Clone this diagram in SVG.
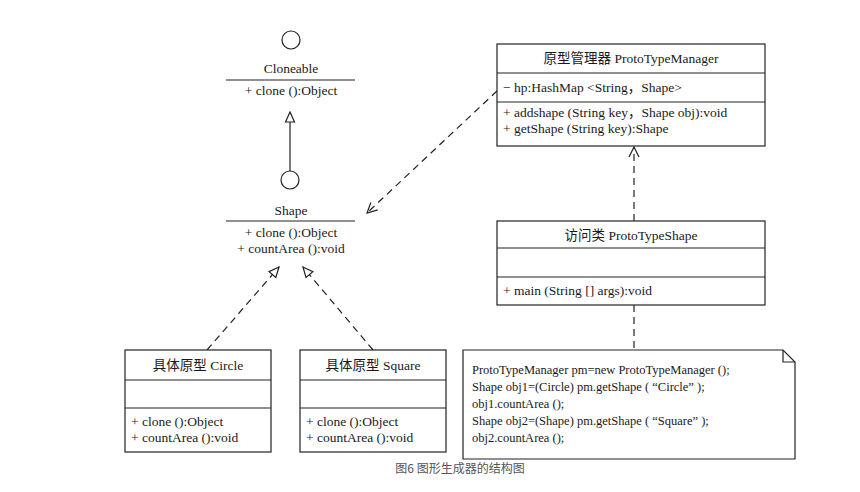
<svg xmlns="http://www.w3.org/2000/svg" width="860" height="492" viewBox="0 0 860 492">
<style>
.t{font-family:"Liberation Serif","Noto Sans CJK SC",serif;font-size:13.5px;fill:#1a1a1a}
.n{font-size:12.5px}
.c{text-anchor:middle}
.box{fill:#fff;stroke:#222;stroke-width:1.2}
.ln{stroke:#222;stroke-width:1.2;fill:none}
.dash{stroke:#222;stroke-width:1.2;fill:none;stroke-dasharray:7 5}
.cap{font-family:"Noto Sans CJK SC","Liberation Sans",sans-serif;font-size:12px;fill:#555;text-anchor:middle}
</style>
<defs>
<marker id="tri" viewBox="0 0 12 12" refX="11" refY="6" markerWidth="12" markerHeight="12" markerUnits="userSpaceOnUse" orient="auto">
<path d="M1,1.5 L11,6 L1,10.5 Z" fill="#fff" stroke="#222" stroke-width="1.2"/>
</marker>
<marker id="open" viewBox="0 0 12 12" refX="11" refY="6" markerWidth="12" markerHeight="12" markerUnits="userSpaceOnUse" orient="auto">
<path d="M1,1 L11,6 L1,11" fill="none" stroke="#222" stroke-width="1.2"/>
</marker>
</defs>
<rect width="860" height="492" fill="#fff"/>
<g id="connectors">
<line class="ln" x1="290" y1="171" x2="290" y2="112" marker-end="url(#tri)"/>
<line class="dash" x1="497" y1="91" x2="367" y2="213" marker-end="url(#open)"/>
<line class="dash" x1="634" y1="221" x2="634" y2="147" marker-end="url(#open)"/>
<line class="dash" x1="634" y1="305" x2="634" y2="350"/>
<line class="dash" x1="207" y1="350" x2="279" y2="267" marker-end="url(#tri)"/>
<line class="dash" x1="373" y1="350" x2="303" y2="267" marker-end="url(#tri)"/>
</g>
<g id="cloneable">
<circle cx="291" cy="40" r="9" class="ln"/>
<text class="t c" x="291" y="73">Cloneable</text>
<line class="ln" x1="226" y1="80" x2="355" y2="80"/>
<text class="t c" x="291" y="95">+ clone ():Object</text>
</g>
<g id="shape">
<circle cx="290" cy="180" r="9" class="ln"/>
<text class="t c" x="291" y="215">Shape</text>
<line class="ln" x1="226" y1="221" x2="355" y2="221"/>
<text class="t c" x="291" y="237">+ clone ():Object</text>
<text class="t c" x="291" y="253">+ countArea ():void</text>
</g>
<g id="prototypemanager">
<rect class="box" x="497" y="44" width="268" height="102"/>
<line class="ln" x1="497" y1="73" x2="765" y2="73"/>
<line class="ln" x1="497" y1="102" x2="765" y2="102"/>
<text class="t c" x="631" y="63">原型管理器  ProtoTypeManager</text>
<text class="t" x="503" y="92">− hp:HashMap &lt;String，Shape&gt;</text>
<text class="t" x="503" y="117">+ addshape (String key，Shape obj):void</text>
<text class="t" x="503" y="133">+ getShape (String key):Shape</text>
</g>
<g id="prototypeshape">
<rect class="box" x="497" y="221" width="268" height="84"/>
<line class="ln" x1="497" y1="248" x2="765" y2="248"/>
<line class="ln" x1="497" y1="277" x2="765" y2="277"/>
<text class="t c" x="631" y="240">访问类 ProtoTypeShape</text>
<text class="t" x="503" y="295">+ main (String [] args):void</text>
</g>
<g id="note">
<path class="box" d="M463,350 H783 L795,362 V459 H463 Z"/>
<path class="ln" d="M783,350 V362 H795"/>
<text class="t n" x="472" y="374">ProtoTypeManager pm=new ProtoTypeManager ();</text>
<text class="t n" x="472" y="391">Shape obj1=(Circle) pm.getShape ( “Circle” );</text>
<text class="t n" x="472" y="408">obj1.countArea ();</text>
<text class="t n" x="472" y="425">Shape obj2=(Shape) pm.getShape ( “Square” );</text>
<text class="t n" x="472" y="442">obj2.countArea ();</text>
</g>
<g id="circle">
<rect class="box" x="125" y="350" width="146" height="102"/>
<line class="ln" x1="125" y1="380" x2="271" y2="380"/>
<line class="ln" x1="125" y1="408" x2="271" y2="408"/>
<text class="t c" x="198" y="370">具体原型 Circle</text>
<text class="t" x="131" y="426">+ clone ():Object</text>
<text class="t" x="131" y="442">+ countArea ():void</text>
</g>
<g id="square">
<rect class="box" x="300" y="350" width="146" height="102"/>
<line class="ln" x1="300" y1="380" x2="446" y2="380"/>
<line class="ln" x1="300" y1="408" x2="446" y2="408"/>
<text class="t c" x="373" y="370">具体原型 Square</text>
<text class="t" x="306" y="426">+ clone ():Object</text>
<text class="t" x="306" y="442">+ countArea ():void</text>
</g>
<text class="cap" x="460" y="473">图6 图形生成器的结构图</text>
</svg>
